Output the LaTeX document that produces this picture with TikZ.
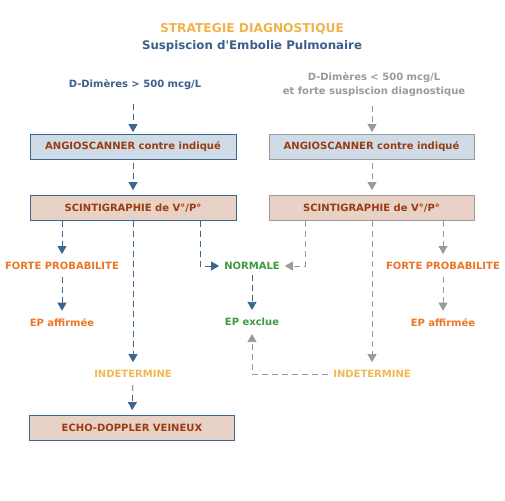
\documentclass[tikz,border=0pt]{standalone}
\usepackage{fontspec}
\setmainfont{DejaVu Sans}[Ligatures=TeXOff]
\usetikzlibrary{arrows.meta}
\definecolor{lblue}{HTML}{3A6690}
\definecolor{lgray}{HTML}{9A9A9A}
\definecolor{torange}{HTML}{F0B24A}
\definecolor{tblue}{HTML}{3B5F8A}
\definecolor{forange}{HTML}{EC7424}
\definecolor{tgreen}{HTML}{3D9A3D}
\definecolor{iorange}{HTML}{F0B850}
\definecolor{brown}{HTML}{9A3C10}
\definecolor{fblue}{HTML}{CFDBE7}
\definecolor{fpink}{HTML}{E8D1C5}
\begin{document}
\begin{tikzpicture}[x=1pt,y=-1pt,
  every node/.style={font=\fontsize{10}{12}\selectfont\bfseries, inner sep=2pt, align=center},
  boxb/.style={draw=lblue, line width=0.8pt, minimum width=206pt, minimum height=25pt, text=brown},
  boxg/.style={draw=lgray, line width=0.8pt, minimum width=205pt, minimum height=25pt, text=brown},
  conb/.style={draw=lblue, line width=0.8pt, dash pattern=on 6pt off 4pt, -{Triangle[width=9pt,length=8pt]}},
  cong/.style={draw=lgray, line width=0.8pt, dash pattern=on 6pt off 4pt, -{Triangle[width=9pt,length=8pt]}}
]
\useasboundingbox (0,0) rectangle (505,500);
\node[text=torange, font=\fontsize{12.2}{14}\selectfont\bfseries] (title) at (252,29) {STRATEGIE DIAGNOSTIQUE};
\node[text=tblue, font=\fontsize{11.8}{14}\selectfont\bfseries] (sub) at (252,46) {Suspiscion d'Embolie Pulmonaire};
\node[text=tblue] (dd1) at (135,85) {D-Dimères > 500 mcg/L};
\node[text=lgray, font=\fontsize{10}{14}\selectfont\bfseries] (dd2) at (374,85) {D-Dimères < 500 mcg/L\\et forte suspiscion diagnostique};
\node[boxb, fill=fblue] (ang1) at (133,147) {ANGIOSCANNER contre indiqué};
\node[boxg, fill=fblue] (ang2) at (371.5,147) {ANGIOSCANNER contre indiqué};
\node[boxb, fill=fpink] (sc1) at (133,208) {SCINTIGRAPHIE de V°/P°};
\node[boxg, fill=fpink] (sc2) at (371.5,208) {SCINTIGRAPHIE de V°/P°};
\node[text=forange] (fp1) at (62,266) {FORTE PROBABILITE};
\node[text=forange] (ep1) at (62,323) {EP affirmée};
\node[text=tgreen] (norm) at (252,266) {NORMALE};
\node[text=tgreen] (excl) at (252,322) {EP exclue};
\node[text=forange] (fp2) at (443,266) {FORTE PROBABILITE};
\node[text=forange] (ep2) at (443,323) {EP affirmée};
\node[text=iorange] (ind1) at (133,374) {INDETERMINE};
\node[text=iorange] (ind2) at (372,374) {INDETERMINE};
\node[boxb, fill=fpink, minimum width=205pt] (echo) at (132,428) {ECHO-DOPPLER VEINEUX};
% left column
\draw[conb, shorten <=12pt, shorten >=2pt] (dd1.south -| ang1) -- (ang1.north);
\draw[conb, shorten <=3pt, shorten >=5pt] (ang1.south) -- (sc1.north);
\draw[conb, shorten >=6pt] (sc1.south -| fp1) -- (fp1.north);
\draw[conb, shorten <=5pt, shorten >=6pt] (fp1.south) -- (ep1.north);
\draw[conb, shorten >=6pt] (sc1.south) -- (ind1.north);
\draw[conb, shorten <=5pt, shorten >=5pt] (ind1.south) -- (echo.north);
\draw[conb, shorten >=3pt] ([xshift=67pt]sc1.south) |- (norm.west);
\draw[conb, shorten <=3pt, shorten >=6pt] (norm.south) -- (excl.north);
% right column
\draw[cong, shorten <=7pt, shorten >=2pt] ([xshift=0.5pt]dd2.south -| ang2) -- ([xshift=0.5pt]ang2.north);
\draw[cong, shorten <=3pt, shorten >=5pt] ([xshift=0.5pt]ang2.south) -- ([xshift=0.5pt]sc2.north);
\draw[cong, shorten >=6pt] ([xshift=0.5pt]sc2.south) -- (ind2.north);
\draw[cong, shorten >=6pt] (sc2.south -| fp2) -- (fp2.north);
\draw[cong, shorten <=5pt, shorten >=6pt] (fp2.south) -- (ep2.north);
\draw[cong, shorten >=3pt] ([xshift=-66.5pt]sc2.south) |- (norm.east);
\draw[cong, shorten <=3pt, shorten >=6pt] (ind2.west) -| (excl.south);
\end{tikzpicture}
\end{document}
